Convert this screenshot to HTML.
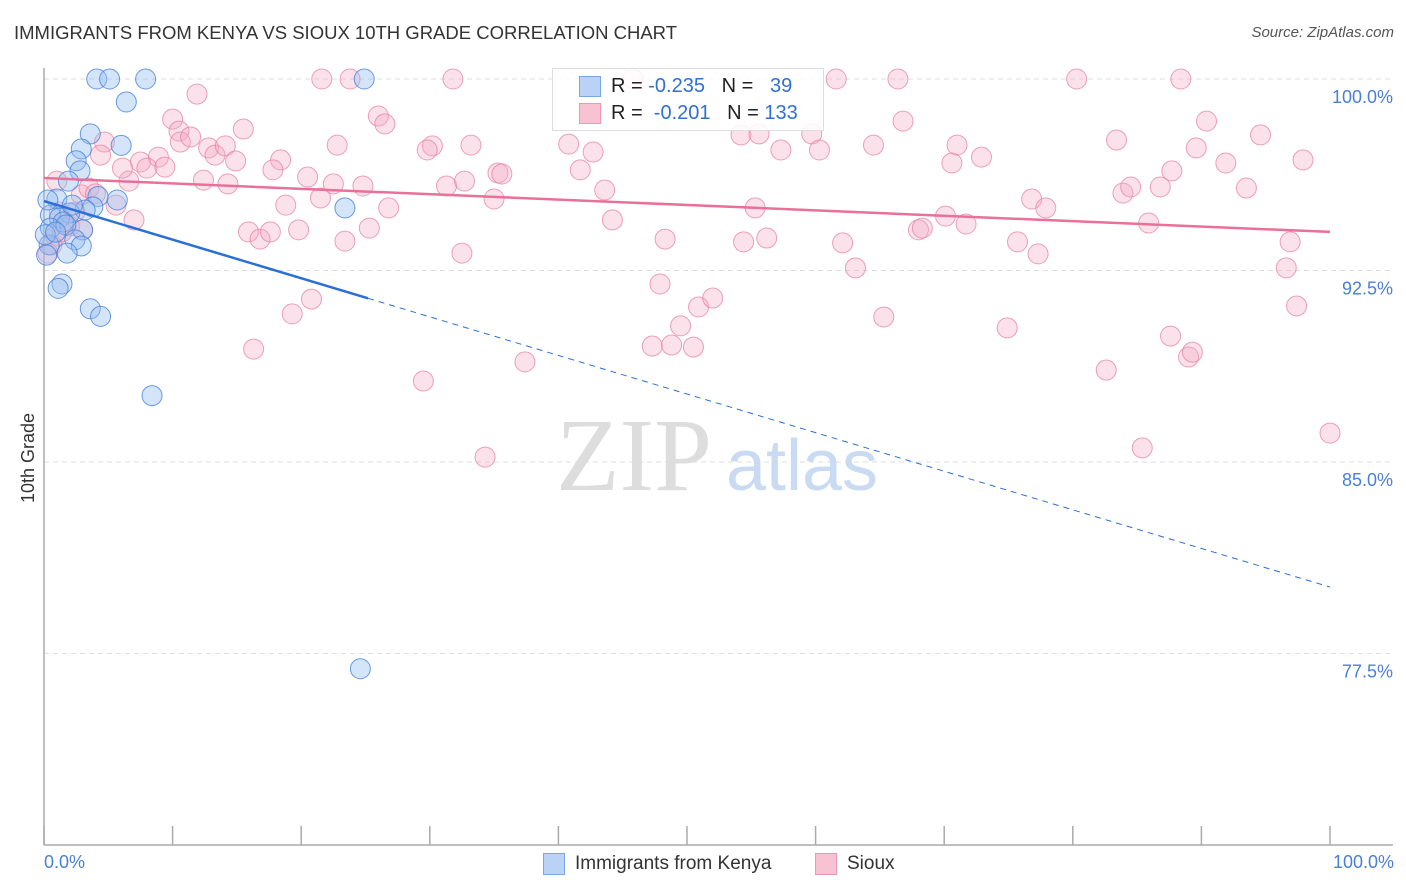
<!DOCTYPE html>
<html><head><meta charset="utf-8">
<style>
body{margin:0;background:#fff;font-family:"Liberation Sans",sans-serif;}
#wrap{position:relative;width:1406px;height:892px;overflow:hidden;}
.t{position:absolute;white-space:nowrap;}
</style></head>
<body>
<div id="wrap">
<div class="t" style="left:14px;top:22px;font-size:18.5px;color:#333;">IMMIGRANTS FROM KENYA VS SIOUX 10TH GRADE CORRELATION CHART</div>
<div class="t" style="right:12px;top:24px;font-size:15px;color:#555;font-style:italic;">Source: ZipAtlas.com</div>
<svg id="svg" width="1406" height="892" style="position:absolute;left:0;top:0"></svg>
</div>
<script>
const tickVals=[100,92.5,85,77.5];
const tickLabels=["100.0%","92.5%","85.0%","77.5%"];
const blueX=[4.1,5.1,7.9,24.9,6.4,3.6,6.0,2.9,2.5,2.8,1.9,4.2,1.0,5.7,3.8,3.2,2.0,0.5,1.2,1.5,0.5,3.0,1.7,0.4,2.4,2.9,1.8,0.2,1.4,1.1,3.6,4.4,8.4,23.4,24.6,0.1,0.9,2.2,0.3];
const blueY=[100,100,100,100,99.1,97.85,97.4,97.26,96.8,96.4,96.0,95.4,95.3,95.26,94.99,94.87,94.75,94.67,94.56,94.4,94.16,94.09,94.28,93.5,93.7,93.46,93.18,93.1,91.97,91.8,91.0,90.7,87.6,94.95,76.9,93.9,94.0,95.06,95.26];
const pinkX=[21.6,23.8,31.8,45.8,61.6,66.4,80.3,88.4,11.9,26.0,26.5,10.0,10.5,10.6,11.4,15.5,4.7,4.4,7.5,8.9,8.0,9.4,6.6,6.1,12.4,14.3,12.8,13.3,14.1,14.9,18.4,17.8,22.8,20.5,22.5,24.8,21.5,18.8,15.9,16.8,17.6,19.8,23.4,25.3,26.8,32.5,20.8,19.3,16.3,29.5,34.3,37.4,30.2,29.8,33.2,31.3,32.7,35.0,35.3,35.6,40.8,42.7,41.7,43.6,44.2,48.3,47.9,50.9,52.0,49.5,47.3,48.8,50.5,54.2,55.6,57.3,59.7,60.3,55.3,54.4,56.2,62.1,63.1,65.3,64.5,66.8,68.0,68.3,70.1,71.7,70.6,71.0,72.9,74.9,75.7,77.3,76.8,77.9,82.6,83.4,83.9,84.5,85.9,86.8,87.6,87.7,89.0,89.3,89.6,90.4,91.9,93.5,94.6,96.6,96.9,97.4,97.9,100,85.4,2.9,3.5,4.0,7.0,5.6,1.2,2.0,3.0,0.9,0.6,2.4,1.4,0.3,1.0];
const pinkY=[100,100,100,100,100,100,100,100,99.41,98.55,98.24,98.43,97.96,97.53,97.73,98.04,97.53,97.02,96.75,96.94,96.51,96.55,96.0,96.51,96.04,95.89,97.3,97.02,97.38,96.79,96.83,96.44,97.41,96.16,95.89,95.81,95.34,95.06,94.01,93.73,94.01,94.09,93.65,94.16,94.95,93.18,91.38,90.8,89.42,88.17,85.19,88.92,97.38,97.22,97.41,95.81,96.0,95.3,96.32,96.28,97.45,97.14,96.44,95.65,94.48,93.73,91.97,91.07,91.42,90.33,89.54,89.58,89.5,97.81,97.85,97.22,97.85,97.22,94.95,93.62,93.77,93.58,92.6,90.68,97.41,98.35,94.09,94.16,94.63,94.32,96.71,97.41,96.94,90.25,93.62,93.15,95.3,94.95,88.6,97.61,95.53,95.77,94.36,95.77,89.93,96.4,89.11,89.3,97.3,98.35,96.71,95.73,97.81,92.6,93.62,91.11,96.83,86.13,85.55,95.46,95.73,95.5,94.48,95.06,94.79,94.24,94.09,93.85,93.5,94.79,94.01,93.18,96.0];
const blueTrend=[95.22,80.1];
const pinkTrend=[96.12,94.01];
const NS="http://www.w3.org/2000/svg";
const svg=document.getElementById('svg');
const X0=44,X1=1330,Y100=79,PX_PER=25.53;
function sx(v){return X0+(v/100)*(X1-X0);}
function sy(v){return Y100+(100-v)*PX_PER;}
function mk(tag,attrs){const e=document.createElementNS(NS,tag);for(const k in attrs)e.setAttribute(k,attrs[k]);svg.appendChild(e);return e;}
tickVals.forEach((v,i)=>{
 const g=mk('line',{x1:X0,x2:1393,y1:sy(v),y2:sy(v),stroke:'#ddd','stroke-dasharray':'5,4'});
 
 
 const t=mk('text',{x:1393,y:sy(v)+24,'text-anchor':'end','font-size':18,fill:'#4a7fd8','font-family':'Liberation Sans, sans-serif'});
 t.textContent=tickLabels[i];
 
 
});
const ya=mk('line',{x1:X0,x2:X0,y1:68,y2:845,stroke:'#aaa','stroke-width':1.5});


const xa=mk('line',{x1:X0,x2:1393,y1:845,y2:845,stroke:'#aaa','stroke-width':1.5});


for(let i=0;i<=10;i++){
 const tk=mk('line',{x1:sx(i*10),x2:sx(i*10),y1:826,y2:845,stroke:'#aaa','stroke-width':1.5});
 
 
}
const w1=mk('text',{x:634,y:490,'text-anchor':'middle','font-size':104,fill:'#ddd','font-family':'Liberation Serif, serif'});
w1.textContent='ZIP';


const w2=mk('text',{x:802,y:490,'text-anchor':'middle','font-size':72,fill:'#c9daf3','font-family':'Liberation Sans, sans-serif'});
w2.textContent='atlas';


pinkX.forEach((x,i)=>{
 const c=mk('circle',{cx:sx(x),cy:sy(pinkY[i]),r:10,fill:'rgba(244,170,195,0.35)',stroke:'rgba(230,130,165,0.75)','stroke-width':1});
 
 
});
blueX.forEach((x,i)=>{
 const c=mk('circle',{cx:sx(x),cy:sy(blueY[i]),r:10,fill:'rgba(150,190,240,0.4)',stroke:'rgba(70,130,220,0.8)','stroke-width':1});
 
 
});
const pt=mk('line',{x1:sx(0),y1:sy(pinkTrend[0]),x2:sx(100),y2:sy(pinkTrend[1]),stroke:'#e8709a','stroke-width':2.5});


const solidEnd=25.2;
const by=v=>blueTrend[0]+(blueTrend[1]-blueTrend[0])*v/100;
const bt=mk('line',{x1:sx(0),y1:sy(by(0)),x2:sx(solidEnd),y2:sy(by(solidEnd)),stroke:'#2a6fd6','stroke-width':2.5});


const bd=mk('line',{x1:sx(solidEnd),y1:sy(by(solidEnd)),x2:sx(100),y2:sy(by(100)),stroke:'#2a6fd6','stroke-width':1,'stroke-dasharray':'6,5'});


</script>
<div class="t" style="left:18px;font-size:18px;color:#333;transform:rotate(-90deg);transform-origin:left top;top:503px;">10th Grade</div>
<div class="t" style="left:44px;top:852px;font-size:18px;color:#4a7fd8;">0.0%</div>
<div class="t" style="right:12px;top:852px;font-size:18px;color:#4a7fd8;">100.0%</div>
<div style="position:absolute;left:552px;top:68px;width:270px;height:61px;border:1px solid #ddd;background:rgba(255,255,255,0.85);">
 <div style="position:absolute;left:26px;top:7px;width:20px;height:19px;background:#b9d2f5;border:1px solid #7aa6e8;"></div>
 <div class="t" style="left:58px;top:6px;font-size:20px;color:#222;">R = <span style="color:#2f6fd8">-0.235</span>&nbsp;&nbsp;&nbsp;N = &nbsp;&nbsp;<span style="color:#2f6fd8">39</span></div>
 <div style="position:absolute;left:26px;top:34px;width:20px;height:19px;background:#f8c2d3;border:1px solid #eb98b4;"></div>
 <div class="t" style="left:58px;top:33px;font-size:20px;color:#222;">R = <span style="color:#2f6fd8">&nbsp;-0.201</span>&nbsp;&nbsp;&nbsp;N = <span style="color:#2f6fd8">133</span></div>
</div>
<div style="position:absolute;left:543px;top:853px;width:20px;height:20px;background:#b9d2f5;border:1px solid #7aa6e8;"></div>
<div class="t" style="left:575px;top:853px;font-size:19px;color:#333;">Immigrants from Kenya</div>
<div style="position:absolute;left:815px;top:853px;width:20px;height:20px;background:#f8c2d3;border:1px solid #eb98b4;"></div>
<div class="t" style="left:847px;top:853px;font-size:19px;color:#333;">Sioux</div>
</body></html>
